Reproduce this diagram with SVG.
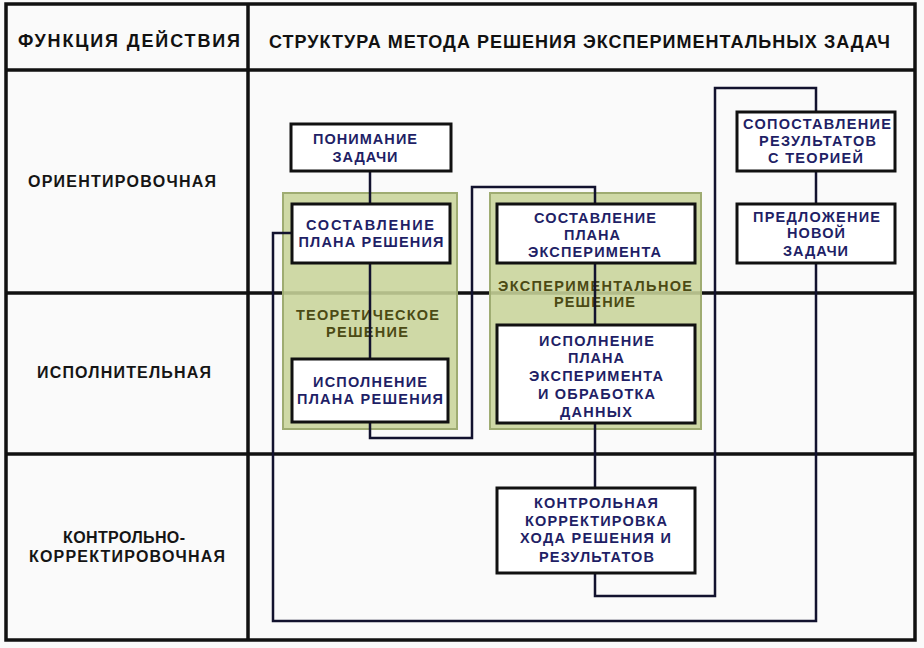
<svg xmlns="http://www.w3.org/2000/svg" width="924" height="648" viewBox="0 0 924 648">
<style>
.tbl{fill:none;stroke:#111;stroke-width:3.5}
.grn{fill:#c8d49a;fill-opacity:0.88;stroke:#9fac72;stroke-width:2}
.box{fill:#fff;stroke:#111;stroke-width:3}
.con{fill:none;stroke:#12122e;stroke-width:2.5}
text{font-family:"Liberation Sans",Arial,sans-serif;font-weight:bold;text-anchor:middle}
.hd{font-size:18px;fill:#111}
.lb{font-size:16px;fill:#151515}
.bt{font-size:14.5px;fill:#1f1f66}
.gt{font-size:14.5px;fill:#4b4a14}
</style>
<rect x="0" y="0" width="924" height="648" fill="#fafafa"/>
<g id="table">
<rect class="tbl" x="6" y="4" width="909" height="636" fill="#fff"/>
<line class="tbl" x1="248" y1="4" x2="248" y2="640"/>
<line class="tbl" x1="6" y1="70" x2="915" y2="70"/>
<line class="tbl" x1="6" y1="293" x2="915" y2="293"/>
<line class="tbl" x1="6" y1="454" x2="915" y2="454"/>
<text class="hd" x="129" y="47" textLength="222" lengthAdjust="spacing">ФУНКЦИЯ ДЕЙСТВИЯ</text>
<text class="hd" x="579.5" y="48" textLength="621" lengthAdjust="spacing">СТРУКТУРА МЕТОДА РЕШЕНИЯ ЭКСПЕРИМЕНТАЛЬНЫХ ЗАДАЧ</text>
<text class="lb" x="122" y="187" textLength="188" lengthAdjust="spacing">ОРИЕНТИРОВОЧНАЯ</text>
<text class="lb" x="124" y="378" textLength="174" lengthAdjust="spacing">ИСПОЛНИТЕЛЬНАЯ</text>
<text class="lb" x="124" y="543" textLength="122" lengthAdjust="spacing">КОНТРОЛЬНО-</text>
<text class="lb" x="127" y="562" textLength="196" lengthAdjust="spacing">КОРРЕКТИРОВОЧНАЯ</text>
</g>
<g id="theoretical">
<rect class="grn" x="283" y="193" width="174" height="236"/>
<text class="gt" x="367.5" y="320" textLength="143" lengthAdjust="spacing">ТЕОРЕТИЧЕСКОЕ</text>
<text class="gt" x="367" y="337" textLength="82" lengthAdjust="spacing">РЕШЕНИЕ</text>
</g>
<g id="experimental">
<rect class="grn" x="490" y="193" width="211" height="236"/>
<text class="gt" x="595" y="291" textLength="194" lengthAdjust="spacing">ЭКСПЕРИМЕНТАЛЬНОЕ</text>
<text class="gt" x="594.5" y="307" textLength="81" lengthAdjust="spacing">РЕШЕНИЕ</text>
</g>
<g id="connectors">
<path class="con" d="M370 171V204"/>
<path class="con" d="M370 263V359"/>
<path class="con" d="M370 421V438H472V187H595V204"/>
<path class="con" d="M595 263V325"/>
<path class="con" d="M595 423V488"/>
<path class="con" d="M595 573V596H715V88H816V112"/>
<path class="con" d="M816 171V204"/>
<path class="con" d="M816 263V621H273V233H292"/>
</g>
<g id="understand">
<rect class="box" x="291" y="124" width="160" height="47"/>
<text class="bt" x="365" y="144" textLength="104" lengthAdjust="spacing">ПОНИМАНИЕ</text>
<text class="bt" x="365" y="162" textLength="65" lengthAdjust="spacing">ЗАДАЧИ</text>
</g>
<g id="plan_solution">
<rect class="box" x="292" y="204" width="158" height="59"/>
<text class="bt" x="370" y="230" textLength="128" lengthAdjust="spacing">СОСТАВЛЕНИЕ</text>
<text class="bt" x="371" y="247" textLength="145" lengthAdjust="spacing">ПЛАНА РЕШЕНИЯ</text>
</g>
<g id="exec_solution">
<rect class="box" x="292" y="359" width="156" height="63"/>
<text class="bt" x="370" y="387" textLength="114" lengthAdjust="spacing">ИСПОЛНЕНИЕ</text>
<text class="bt" x="370" y="404" textLength="146" lengthAdjust="spacing">ПЛАНА РЕШЕНИЯ</text>
</g>
<g id="plan_experiment">
<rect class="box" x="497" y="204" width="198" height="59"/>
<text class="bt" x="595" y="223" textLength="122" lengthAdjust="spacing">СОСТАВЛЕНИЕ</text>
<text class="bt" x="592" y="240" textLength="56" lengthAdjust="spacing">ПЛАНА</text>
<text class="bt" x="594.5" y="257" textLength="133" lengthAdjust="spacing">ЭКСПЕРИМЕНТА</text>
</g>
<g id="exec_experiment">
<rect class="box" x="497" y="325" width="198" height="98"/>
<text class="bt" x="596.5" y="346" textLength="115" lengthAdjust="spacing">ИСПОЛНЕНИЕ</text>
<text class="bt" x="596" y="363" textLength="56" lengthAdjust="spacing">ПЛАНА</text>
<text class="bt" x="596" y="381" textLength="134" lengthAdjust="spacing">ЭКСПЕРИМЕНТА</text>
<text class="bt" x="596.5" y="399" textLength="117" lengthAdjust="spacing">И ОБРАБОТКА</text>
<text class="bt" x="596" y="417" textLength="72" lengthAdjust="spacing">ДАННЫХ</text>
</g>
<g id="control">
<rect class="box" x="497" y="488" width="198" height="85"/>
<text class="bt" x="596" y="508" textLength="124" lengthAdjust="spacing">КОНТРОЛЬНАЯ</text>
<text class="bt" x="596" y="526" textLength="142" lengthAdjust="spacing">КОРРЕКТИРОВКА</text>
<text class="bt" x="595.5" y="543" textLength="151" lengthAdjust="spacing">ХОДА РЕШЕНИЯ И</text>
<text class="bt" x="596.5" y="562" textLength="115" lengthAdjust="spacing">РЕЗУЛЬТАТОВ</text>
</g>
<g id="compare">
<rect class="box" x="737" y="112" width="158" height="59"/>
<text class="bt" x="817" y="129" textLength="148" lengthAdjust="spacing">СОПОСТАВЛЕНИЕ</text>
<text class="bt" x="817.5" y="146" textLength="117" lengthAdjust="spacing">РЕЗУЛЬТАТОВ</text>
<text class="bt" x="815.5" y="163" textLength="95" lengthAdjust="spacing">С ТЕОРИЕЙ</text>
</g>
<g id="propose">
<rect class="box" x="737" y="204" width="158" height="59"/>
<text class="bt" x="816.5" y="222" textLength="127" lengthAdjust="spacing">ПРЕДЛОЖЕНИЕ</text>
<text class="bt" x="816" y="238" textLength="58" lengthAdjust="spacing">НОВОЙ</text>
<text class="bt" x="815.5" y="256" textLength="65" lengthAdjust="spacing">ЗАДАЧИ</text>
</g>
</svg>
